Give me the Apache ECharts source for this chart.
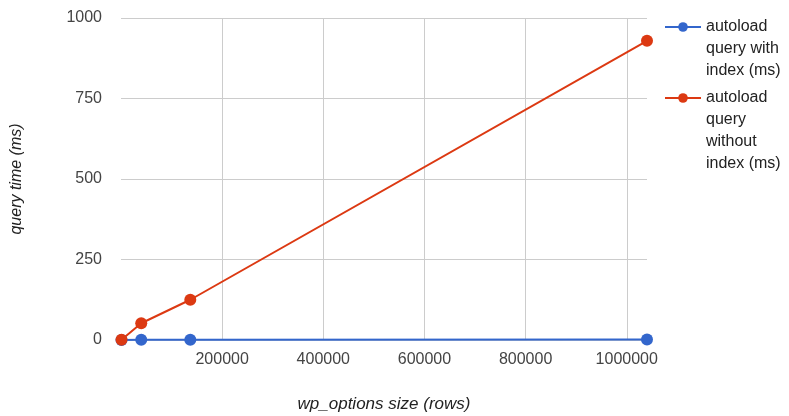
<!DOCTYPE html>
<html>
<head>
<meta charset="utf-8">
<script src="https://cdn.jsdelivr.net/npm/echarts@6/dist/echarts.min.js"></script>
<style>
	html, body { margin: 0; padding: 0; background: #fff; }
	#chart { width: 789px; height: 416px; }
</style>
</head>
<body>
<div id="chart"></div>
<script>
// wp_options rows vs. autoload query time
var rows = [1000, 40000, 137000, 1040000];
var withIndex = [0.3, 0.5, 0.6, 1.2];
var withoutIndex = [1, 52, 125, 929];
var xTicks = [200000, 400000, 600000, 800000, 1000000];
var yTicks = [0, 250, 500, 750, 1000];

var nameWith = 'autoload query with index (ms)';
var nameWithout = 'autoload query without index (ms)';

function pairs(xs, ys){
	var out = [];
	for(var i=0;i<xs.length;i++){
		out.push([xs[i], ys[i]]);
	}
	return out;
}

var font = 'Liberation Sans, Arial, sans-serif';
var myChart = echarts.init(document.getElementById('chart'));
var option = {
	animation: false,
	textStyle: { fontFamily: font },
	grid: { left: 121, right: 142, top: 18, bottom: 76, outerBoundsMode: 'none' },
	legend: [
		{
			data: [nameWith],
			left: 664, top: -28, padding: 0,
			itemWidth: 36, itemHeight: 12,
			formatter: function(){ return '\n\nautoload\nquery with\nindex (ms)'; },
			textStyle: { fontSize: 16, color: '#222', lineHeight: 22, fontFamily: font }
		},
		{
			data: [nameWithout],
			left: 664, top: 21, padding: 0,
			itemWidth: 36, itemHeight: 12,
			formatter: function(){ return '\n\n\nautoload\nquery\nwithout\nindex (ms)'; },
			textStyle: { fontSize: 16, color: '#222', lineHeight: 22, fontFamily: font }
		}
	],
	xAxis: {
		type: 'value',
		min: 0,
		max: 1040000,
		interval: 200000,
		name: 'wp_options size (rows)',
		nameLocation: 'middle',
		nameGap: 56,
		nameTextStyle: { fontSize: 17, fontStyle: 'italic', color: '#222', fontFamily: font },
		axisLine: { show: false },
		axisTick: { show: false },
		axisLabel: {
			margin: 12,
			fontSize: 16,
			color: '#444',
			showMaxLabel: false,
			formatter: function(v){ return xTicks.indexOf(v) >= 0 ? String(v) : ''; }
		},
		splitLine: { show: true, showMinLine: false, showMaxLine: false, lineStyle: { color: '#ccc', width: 1 } }
	},
	yAxis: {
		type: 'value',
		min: yTicks[0],
		max: yTicks[yTicks.length-1],
		interval: 250,
		name: 'query time (ms)',
		nameLocation: 'middle',
		nameGap: 96,
		nameTextStyle: { fontSize: 16, fontStyle: 'italic', color: '#222', fontFamily: font },
		axisLine: { show: false },
		axisTick: { show: false },
		axisLabel: {
			margin: 19,
			fontSize: 16,
			color: '#444',
			formatter: function(v){ return String(v); }
		},
		splitLine: { show: true, lineStyle: { color: '#ccc', width: 1 } }
	},
	series: [
		{
			name: nameWith,
			type: 'line',
			data: pairs(rows, withIndex),
			symbol: 'circle',
			symbolSize: 12,
			lineStyle: { width: 2, color: '#3366cc' },
			itemStyle: { color: '#3366cc' }
		},
		{
			name: nameWithout,
			type: 'line',
			data: pairs(rows, withoutIndex),
			symbol: 'circle',
			symbolSize: 12,
			lineStyle: { width: 2, color: '#dc3912' },
			itemStyle: { color: '#dc3912' }
		}
	]
};
myChart.setOption(option);
</script>
</body>
</html>
